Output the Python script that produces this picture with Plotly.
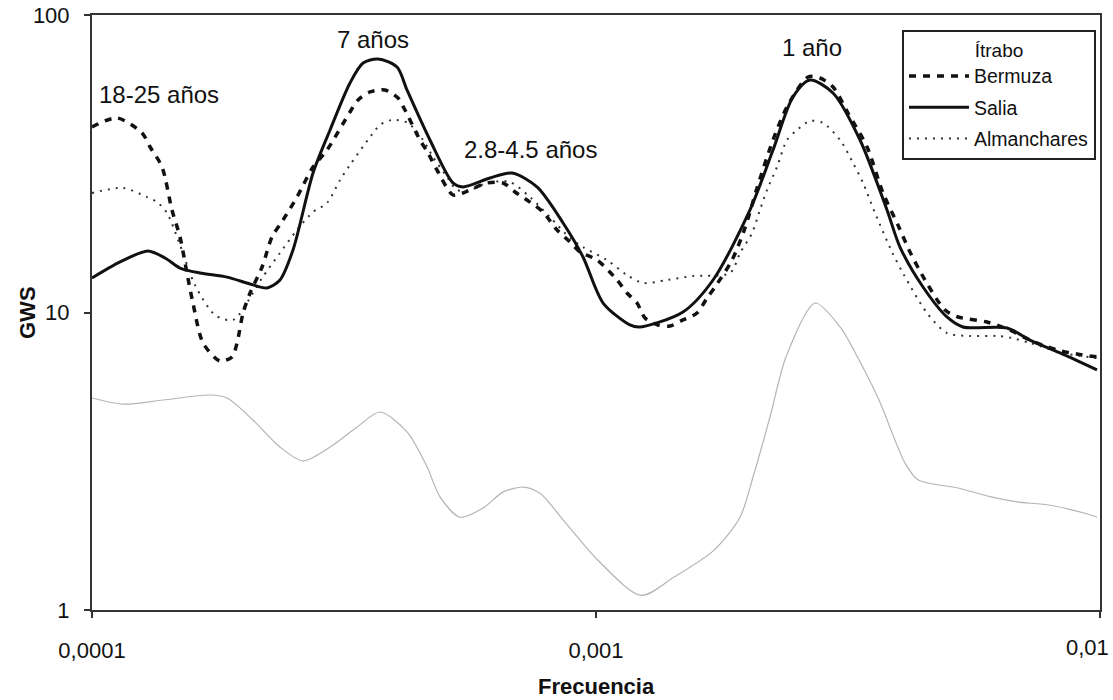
import plotly.graph_objects as go

# ---------------- data ----------------
salia_f = [1.000e-4, 1.137e-4, 1.291e-4, 1.396e-4, 1.495e-4, 1.638e-4, 1.853e-4, 2.059e-4, 2.225e-4,
           2.360e-4, 2.505e-4, 2.745e-4, 2.967e-4, 3.250e-4, 3.450e-4, 3.694e-4, 4.029e-4, 4.217e-4,
           4.683e-4, 5.202e-4, 5.445e-4, 6.162e-4, 6.813e-4, 7.637e-4, 8.604e-4, 9.424e-4, 1.033e-3,
           1.168e-3, 1.223e-3, 1.488e-3, 1.707e-3, 2.021e-3, 2.245e-3, 2.459e-3, 2.658e-3, 2.953e-3,
           3.341e-3, 3.779e-3, 4.010e-3, 4.455e-3, 4.970e-3, 5.349e-3, 6.539e-3, 7.262e-3, 8.330e-3,
           9.863e-3]
salia_g = [13.06, 14.79, 16.10, 15.25, 14.11, 13.58, 13.15, 12.47, 12.09,
           12.86, 16.22, 29.43, 41.06, 59.07, 68.98, 71.14, 66.87, 55.96,
           38.00, 27.25, 26.42, 28.32, 29.43, 26.42, 19.99, 15.37, 10.76,
           9.08, 8.94, 10.04, 12.86, 22.11, 35.17, 53.02, 60.46, 54.68,
           38.00, 22.11, 16.60, 12.18, 9.66, 8.94, 8.87, 8.08, 7.31,
           6.41]

bermuza_f = [1.000e-4, 1.121e-4, 1.257e-4, 1.304e-4, 1.377e-4, 1.441e-4, 1.495e-4, 1.543e-4, 1.586e-4,
             1.661e-4, 1.795e-4, 1.896e-4, 1.940e-4, 1.994e-4, 2.059e-4, 2.175e-4, 2.276e-4, 2.393e-4,
             2.551e-4, 2.745e-4, 2.926e-4, 3.250e-4, 3.372e-4, 3.562e-4, 3.814e-4, 4.047e-4, 4.178e-4,
             4.475e-4, 4.642e-4, 4.836e-4, 5.202e-4, 5.445e-4, 6.078e-4, 6.539e-4, 6.907e-4, 7.396e-4,
             7.848e-4, 8.370e-4, 8.879e-4, 9.296e-4, 1.005e-3, 1.101e-3, 1.152e-3, 1.206e-3, 1.251e-3,
             1.327e-3, 1.402e-3, 1.488e-3, 1.586e-3, 1.661e-3, 1.722e-3, 1.862e-3, 1.975e-3, 2.087e-3,
             2.245e-3, 2.393e-3, 2.634e-3, 2.782e-3, 2.953e-3, 3.162e-3, 3.450e-3, 3.711e-3, 3.973e-3,
             4.198e-3, 4.496e-3, 4.926e-3, 5.229e-3, 5.967e-3, 6.627e-3, 7.262e-3, 8.217e-3, 9.003e-3,
             9.863e-3]
bermuza_g = [42.03, 45.06, 40.13, 36.00, 30.84, 22.11, 17.94, 13.58, 10.76,
             7.90, 6.87, 7.09, 7.90, 9.96, 11.63, 14.22, 17.94, 20.46,
             24.44, 30.84, 35.17, 47.21, 51.81, 55.11, 55.96, 52.60, 47.94,
             38.00, 34.37, 30.13, 24.83, 25.22, 27.25, 27.25, 25.41, 23.51,
             21.77, 18.94, 17.26, 15.97, 15.01, 12.86, 11.63, 10.76, 9.58,
             9.08, 9.01, 9.44, 9.96, 11.19, 12.18, 15.01, 19.23, 26.21,
             38.00, 49.07, 61.88, 61.40, 57.28, 46.84, 36.00, 25.22, 19.68,
             15.97, 12.86, 10.19, 9.66, 9.29, 8.73, 8.08, 7.48, 7.25,
             7.09]

alman_f = [1.000e-4, 1.152e-4, 1.286e-4, 1.346e-4, 1.409e-4, 1.495e-4, 1.601e-4, 1.754e-4, 1.905e-4,
           2.087e-4, 2.175e-4, 2.360e-4, 2.551e-4, 2.745e-4, 2.926e-4, 3.105e-4, 3.250e-4, 3.562e-4,
           3.728e-4, 3.938e-4, 4.236e-4, 4.537e-4, 4.749e-4, 5.064e-4, 5.300e-4, 5.623e-4, 6.078e-4,
           6.751e-4, 7.396e-4, 8.102e-4, 8.879e-4, 9.424e-4, 1.051e-3, 1.152e-3, 1.240e-3, 1.383e-3,
           1.558e-3, 1.845e-3, 1.931e-3, 2.040e-3, 2.115e-3, 2.184e-3, 2.286e-3, 2.393e-3, 2.505e-3,
           2.658e-3, 2.821e-3, 3.050e-3, 3.236e-3, 3.388e-3, 3.578e-3, 3.867e-3, 4.084e-3, 4.537e-3,
           4.970e-3, 5.523e-3, 6.246e-3, 6.689e-3, 7.262e-3, 8.446e-3, 9.863e-3]
alman_g = [25.22, 26.21, 24.44, 23.51, 21.60, 16.86, 12.37, 9.81, 9.44,
           11.63, 13.06, 15.85, 18.94, 21.77, 23.34, 27.88, 31.32, 38.90,
           42.69, 44.37, 43.35, 38.00, 33.32, 28.54, 25.81, 25.81, 27.25,
           27.46, 24.44, 20.94, 17.80, 16.60, 15.01, 13.37, 12.57, 12.86,
           13.27, 13.58, 15.85, 18.50, 22.11, 25.81, 30.84, 38.00, 41.06,
           44.03, 43.35, 38.00, 31.80, 27.25, 21.60, 15.97, 13.37, 9.96,
           8.53, 8.34, 8.34, 8.21, 7.90, 7.31, 7.03]

ref_f = [1.000e-4, 1.152e-4, 1.383e-4, 1.714e-4, 1.853e-4, 2.087e-4, 2.360e-4, 2.622e-4, 2.967e-4,
         3.357e-4, 3.728e-4, 4.217e-4, 4.621e-4, 4.903e-4, 5.372e-4, 5.967e-4, 6.539e-4, 7.164e-4,
         7.743e-4, 8.604e-4, 1.009e-3, 1.228e-3, 1.428e-3, 1.715e-3, 1.931e-3, 2.049e-3, 2.214e-3,
         2.382e-3, 2.719e-3, 3.050e-3, 3.326e-3, 3.643e-3, 4.103e-3, 4.354e-3, 5.229e-3, 6.077e-3,
         6.844e-3, 7.959e-3, 9.554e-3, 9.863e-3]
ref_g = [5.16, 4.92, 5.08, 5.28, 5.16, 4.35, 3.53, 3.17, 3.53,
         4.12, 4.63, 3.97, 3.03, 2.40, 2.05, 2.20, 2.49, 2.59,
         2.47, 2.01, 1.47, 1.12, 1.29, 1.59, 2.05, 2.80, 4.45,
         7.09, 10.76, 8.94, 6.92, 5.08, 3.12, 2.74, 2.57, 2.40,
         2.31, 2.25, 2.09, 2.05]

x_tickvals = [0.0001, 0.001, 0.01]
x_ticktext = ["0,0001", "0,001", ""]
last_x_label = "0,01"
y_tickvals = [1, 10, 100]
y_ticktext = ["1", "10", "100"]

peak_labels = ["18-25 años", "7 años", "2.8-4.5 años", "1 año"]

FONT = "Liberation Sans, Arial, sans-serif"
W, H = 1113, 700
L, R, T, B = 92, 13, 15, 90
PW, PH = W - L - R, H - T - B


def px(xp):
    return (xp - L) / PW


def py(yp):
    return (H - B - yp) / PH


fig = go.Figure()
fig.add_trace(go.Scatter(x=ref_f, y=ref_g, mode="lines", showlegend=False,
                         line=dict(color="#b4b4b4", width=1.2, shape="spline", smoothing=0.8)))
fig.add_trace(go.Scatter(x=alman_f, y=alman_g, mode="lines", name="Almanchares", legendrank=3,
                         legendgroup="c",
                         line=dict(color="#333333", width=2, dash="2px,6px", shape="spline", smoothing=0.8)))
fig.add_trace(go.Scatter(x=bermuza_f, y=bermuza_g, mode="lines", name="Bermuza", legendrank=1,
                         legendgroup="a",
                         line=dict(color="#111111", width=3.5, dash="7px,7px", shape="spline", smoothing=0.8)))
fig.add_trace(go.Scatter(x=salia_f, y=salia_g, mode="lines", name="Salia", legendrank=2,
                         legendgroup="b",
                         line=dict(color="#111111", width=3, shape="spline", smoothing=0.8)))

fig.update_layout(
    width=W, height=H,
    margin=dict(l=L, r=R, t=T, b=B, autoexpand=False),
    paper_bgcolor="white", plot_bgcolor="white",
    font=dict(family=FONT, size=21, color="#111111"),
    legend=dict(
        title=dict(text="Ítrabo", side="top center", font=dict(size=19)),
        traceorder="grouped", tracegroupgap=3,
        x=px(902), y=py(30), xanchor="left", yanchor="top",
        bgcolor="white", bordercolor="#222222", borderwidth=2,
        font=dict(size=19.5), itemwidth=60,
    ),
)

fig.update_xaxes(type="log", range=[-4, -2], tickvals=x_tickvals, ticktext=x_ticktext,
                 showgrid=False, zeroline=False, showline=True, linecolor="#333333", linewidth=2,
                 mirror=True, ticks="outside", ticklen=6, tickwidth=2, tickcolor="#333333",
                 ticklabelstandoff=14, tickfont=dict(size=22), automargin=False)
fig.update_yaxes(type="log", range=[0, 2], tickvals=y_tickvals, ticktext=y_ticktext,
                 showgrid=False, zeroline=False, showline=True, linecolor="#333333", linewidth=2,
                 mirror=True, ticks="outside", ticklen=6, tickwidth=2, tickcolor="#333333",
                 ticklabelstandoff=10, tickfont=dict(size=22), automargin=False)

# last x tick label, kept inside the page (the reference shows it at the right edge)
fig.add_annotation(x=px(1111), y=py(647), xref="paper", yref="paper", text=last_x_label,
                   showarrow=False, xanchor="right", yanchor="middle", font=dict(size=22))

ann_pos = [(97, 95, "left"), (373, 40, "center"), (530, 150, "center"), (812, 47, "center")]
for (ax, ay, anc), txt in zip(ann_pos, peak_labels):
    fig.add_annotation(x=px(ax), y=py(ay), xref="paper", yref="paper", text=txt, showarrow=False,
                       xanchor=anc, yanchor="middle", font=dict(size=24))

fig.add_annotation(x=px(27), y=py(313), xref="paper", yref="paper", text="<b>GWS</b>",
                   showarrow=False, textangle=-90, xanchor="center", yanchor="middle",
                   font=dict(size=22))
fig.add_annotation(x=px(596), y=py(686), xref="paper", yref="paper",
                   text="<b>Frecuencia</b>", showarrow=False, xanchor="center", yanchor="middle",
                   font=dict(size=22))

fig.write_html("out.html", config={"displayModeBar": False},
               post_script="document.body.style.margin='0';")
